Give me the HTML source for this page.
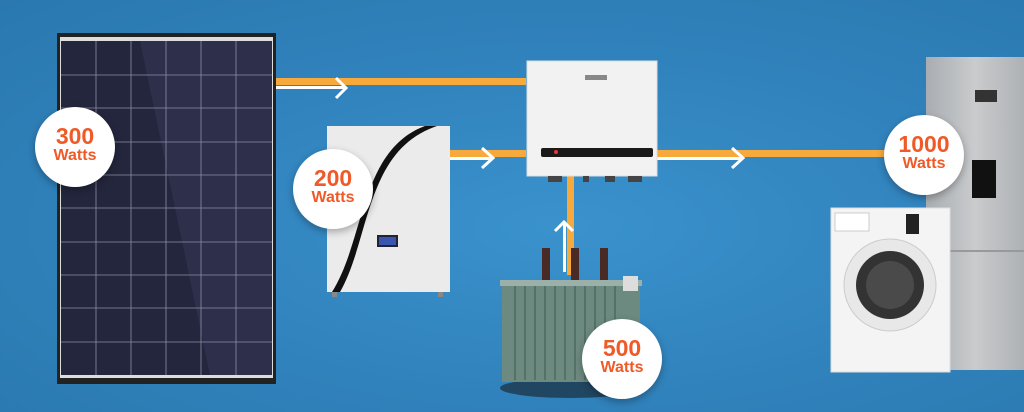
<!DOCTYPE html><html><head><style>
body{margin:0;width:1024px;height:412px;overflow:hidden;background:radial-gradient(ellipse at 55% 55%,#3a92cc 0%,#3183bd 50%,#2a78af 100%);font-family:"Liberation Sans",sans-serif;position:relative}
.a{position:absolute}
.c{position:absolute;width:80px;height:80px;border-radius:50%;background:#fff;box-shadow:0 3px 8px rgba(0,0,0,.3);text-align:center;color:#f05a28;font-weight:bold}
.c b{display:block;font-size:23px;margin-top:18px;line-height:22px}
.c i{display:block;font-style:normal;font-size:16px;line-height:18px}
</style></head><body>
<svg class="a" style="left:0;top:0" width="1024" height="412">
<defs><linearGradient id="fr" x1="0" x2="1"><stop offset="0" stop-color="#a9adb1"/><stop offset=".5" stop-color="#c9cbcd"/><stop offset="1" stop-color="#aeb1b4"/></linearGradient></defs>
<rect x="276" y="78" width="250" height="7" fill="#f7a93b"/>
<rect x="276" y="86" width="70" height="3" fill="#fff"/>
<polyline points="336,78 346,88 336,98" fill="none" stroke="#fff" stroke-width="3"/>
<rect x="450" y="150" width="76" height="7" fill="#f7a93b"/>
<rect x="450" y="157" width="42" height="3" fill="#fff"/>
<polyline points="482,148 493,158 482,168" fill="none" stroke="#fff" stroke-width="3"/>
<rect x="657" y="150" width="240" height="7" fill="#f7a93b"/>
<rect x="657" y="157" width="85" height="3" fill="#fff"/>
<polyline points="732,148 743,158 732,168" fill="none" stroke="#fff" stroke-width="3"/>
<rect x="567" y="175" width="7" height="100" fill="#f7a93b"/>
<rect x="563" y="222" width="3" height="50" fill="#fff"/>
<polyline points="555,231 564,222 573,231" fill="none" stroke="#fff" stroke-width="3"/>
<rect x="57" y="33" width="219" height="351" fill="#222"/>
<rect x="60" y="37" width="213" height="341" fill="#ddd"/>
<rect x="61" y="41" width="211" height="334" fill="#24263d"/>
<polygon points="140,41 272,41 272,375 210,375" fill="#2e2f4a"/>
<g stroke="#8d8fa5" stroke-width="0.8">
<line x1="96" y1="41" x2="96" y2="375"/><line x1="131" y1="41" x2="131" y2="375"/><line x1="166" y1="41" x2="166" y2="375"/><line x1="201" y1="41" x2="201" y2="375"/><line x1="236" y1="41" x2="236" y2="375"/>
<line x1="61" y1="75" x2="272" y2="75"/><line x1="61" y1="108" x2="272" y2="108"/><line x1="61" y1="142" x2="272" y2="142"/><line x1="61" y1="175" x2="272" y2="175"/><line x1="61" y1="208" x2="272" y2="208"/><line x1="61" y1="242" x2="272" y2="242"/><line x1="61" y1="275" x2="272" y2="275"/><line x1="61" y1="308" x2="272" y2="308"/><line x1="61" y1="342" x2="272" y2="342"/>
</g>
<rect x="327" y="126" width="123" height="166" fill="#ebebeb"/>
<path d="M340,292 C370,240 365,150 437,126 L425,126 C360,150 365,240 332,292Z" fill="#111"/>
<rect x="377" y="235" width="21" height="12" fill="#223"/><rect x="379" y="237" width="17" height="8" fill="#3a55b0"/>
<rect x="332" y="292" width="5" height="5" fill="#888"/><rect x="438" y="292" width="5" height="5" fill="#888"/>
<rect x="527" y="61" width="130" height="115" fill="#f2f2f2" stroke="#ddd"/>
<rect x="541" y="148" width="112" height="9" rx="2" fill="#1a1a1a"/>
<circle cx="556" cy="152" r="2" fill="#e33"/>
<rect x="585" y="75" width="22" height="5" fill="#888"/>
<rect x="548" y="176" width="14" height="6" fill="#444"/><rect x="583" y="176" width="6" height="6" fill="#444"/><rect x="605" y="176" width="10" height="6" fill="#444"/><rect x="628" y="176" width="14" height="6" fill="#444"/>
<ellipse cx="570" cy="388" rx="70" ry="10" fill="#1b2c3c" opacity=".7"/>
<rect x="502" y="284" width="138" height="98" fill="#6d8a80"/>
<g stroke="#4e6a61" stroke-width="1.5"><line x1="515" y1="286" x2="515" y2="380"/><line x1="525" y1="286" x2="525" y2="380"/><line x1="535" y1="286" x2="535" y2="380"/><line x1="545" y1="286" x2="545" y2="380"/><line x1="555" y1="286" x2="555" y2="380"/><line x1="565" y1="286" x2="565" y2="380"/><line x1="575" y1="286" x2="575" y2="380"/><line x1="585" y1="286" x2="585" y2="380"/><line x1="595" y1="286" x2="595" y2="380"/><line x1="605" y1="286" x2="605" y2="380"/><line x1="615" y1="286" x2="615" y2="380"/></g>
<rect x="500" y="280" width="142" height="6" fill="#9ab0a8"/>
<rect x="542" y="248" width="8" height="32" fill="#4a2a24"/><rect x="571" y="248" width="8" height="32" fill="#4a2a24"/><rect x="600" y="248" width="8" height="32" fill="#4a2a24"/>
<rect x="623" y="276" width="15" height="15" fill="#ddd"/>
<rect x="926" y="57" width="98" height="313" fill="url(#fr)"/>
<rect x="926" y="250" width="98" height="2" fill="#999"/>
<rect x="975" y="90" width="22" height="12" fill="#333"/>
<rect x="972" y="160" width="24" height="38" fill="#111"/>
<rect x="831" y="208" width="119" height="164" fill="#f4f4f4" stroke="#ddd"/>
<rect x="835" y="213" width="34" height="18" fill="#fff" stroke="#ccc"/>
<rect x="906" y="214" width="13" height="20" fill="#222"/>
<circle cx="890" cy="285" r="46" fill="#e8e8e8" stroke="#ccc"/>
<circle cx="890" cy="285" r="34" fill="#333"/>
<circle cx="890" cy="285" r="24" fill="#4a4a4a"/>
</svg>
<div class="c" style="left:35px;top:107px"><b>300</b><i>Watts</i></div>
<div class="c" style="left:293px;top:149px"><b>200</b><i>Watts</i></div>
<div class="c" style="left:884px;top:115px"><b>1000</b><i>Watts</i></div>
<div class="c" style="left:582px;top:319px"><b>500</b><i>Watts</i></div>
</body></html>
